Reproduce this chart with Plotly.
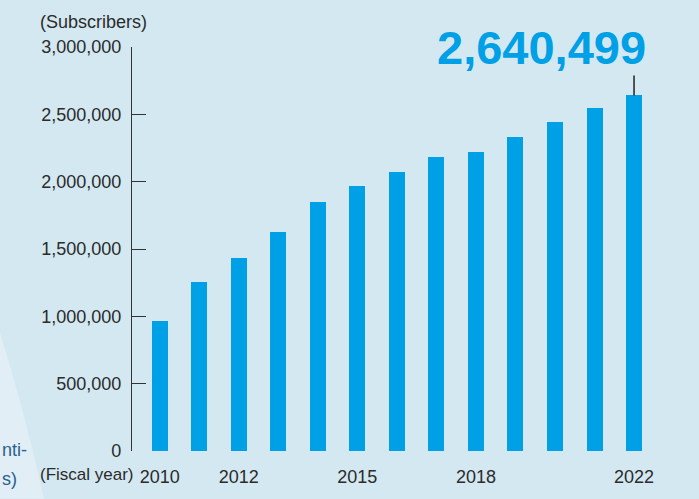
import plotly.graph_objects as go

# Subscriber counts by fiscal year
years = [2010, 2011, 2012, 2013, 2014, 2015, 2016, 2017, 2018, 2019, 2020, 2021, 2022]
subscribers = [962000, 1256000, 1436000, 1626000, 1848000, 1966000, 2069000,
               2186000, 2217000, 2335000, 2446000, 2548000, 2640499]
x_tick_years = [2010, 2012, 2015, 2018, 2022]
y_tick_values = [0, 500000, 1000000, 1500000, 2000000, 2500000, 3000000]

W, H = 699, 499
ML, MR, MT, MB = 132, 39, 47, 46
PW, PH = W - ML - MR, H - MT - MB


def px_x(px):
    return (px - ML) / PW


def px_y(py):
    return (H - MB - py) / PH


BAR = "#00a0e6"
TEXT = "#2b2b2b"
FONT = "Liberation Sans, Arial, sans-serif"

fig = go.Figure()
fig.add_trace(go.Bar(x=years, y=subscribers, width=0.405,
                     marker=dict(color=BAR, line=dict(width=0)),
                     hoverinfo="skip"))

# pale curved panel edge at lower left
shapes = [dict(type="path", xref="paper", yref="paper", layer="below",
               path=f"M {px_x(-2)},{px_y(328)} Q {px_x(24)},{px_y(410)} {px_x(44)},{px_y(501)} "
                    f"L {px_x(-2)},{px_y(501)} Z",
               fillcolor="#e1eef5", line=dict(width=0))]

# leader line above the latest bar
shapes.append(dict(type="line", xref="x", yref="y", ysizemode="pixel",
                   yanchor=subscribers[-1], x0=years[-1], x1=years[-1], y0=0, y1=20,
                   line=dict(color="#222222", width=1.5)))

annotations = [
    dict(text="(Subscribers)", xref="paper", yref="paper", x=px_x(38), y=px_y(22),
         xanchor="left", yanchor="middle", showarrow=False,
         font=dict(family=FONT, size=18, color=TEXT)),
    dict(text="(Fiscal year)", xref="paper", yref="paper", x=px_x(136), y=px_y(477),
         xanchor="right", yanchor="middle", showarrow=False,
         font=dict(family=FONT, size=17, color=TEXT)),
    dict(text=f"{subscribers[-1]:,}", xref="x", yref="y", x=years[-1], y=3000000,
         xanchor="right", yanchor="middle", xshift=14, showarrow=False,
         font=dict(family=FONT, size=47, color=BAR, weight="bold")),
    dict(text="nti-", xref="paper", yref="paper", x=px_x(0), y=px_y(452),
         xanchor="left", yanchor="middle", showarrow=False,
         font=dict(family=FONT, size=18, color="#2a5f8f")),
    dict(text="s)", xref="paper", yref="paper", x=px_x(0), y=px_y(481),
         xanchor="left", yanchor="middle", showarrow=False,
         font=dict(family=FONT, size=18, color="#2a5f8f")),
]

fig.update_layout(
    width=W, height=H,
    margin=dict(l=ML, r=MR, t=MT, b=MB, pad=0),
    paper_bgcolor="#d4e8f1",
    plot_bgcolor="rgba(0,0,0,0)",
    showlegend=False,
    bargap=0,
    shapes=shapes,
    annotations=annotations,
    xaxis=dict(range=[2009.30, 2009.30 + PW / 39.53], tickvals=x_tick_years,
               ticktext=[str(y) for y in x_tick_years], showgrid=False, zeroline=False,
               showline=False, ticks="", ticklabelstandoff=13,
               tickfont=dict(family=FONT, size=18, color=TEXT)),
    yaxis=dict(range=[0, 3000000], tickvals=y_tick_values,
               ticktext=[f"{v:,}" for v in y_tick_values], showgrid=False,
               zeroline=False, showline=True, linecolor="#333333", linewidth=1.3,
               ticks="inside", ticklen=14, tickwidth=1.3, tickcolor="#333333",
               ticklabelstandoff=6,
               tickfont=dict(family=FONT, size=18, color=TEXT)),
)

fig.write_html("out.html")
